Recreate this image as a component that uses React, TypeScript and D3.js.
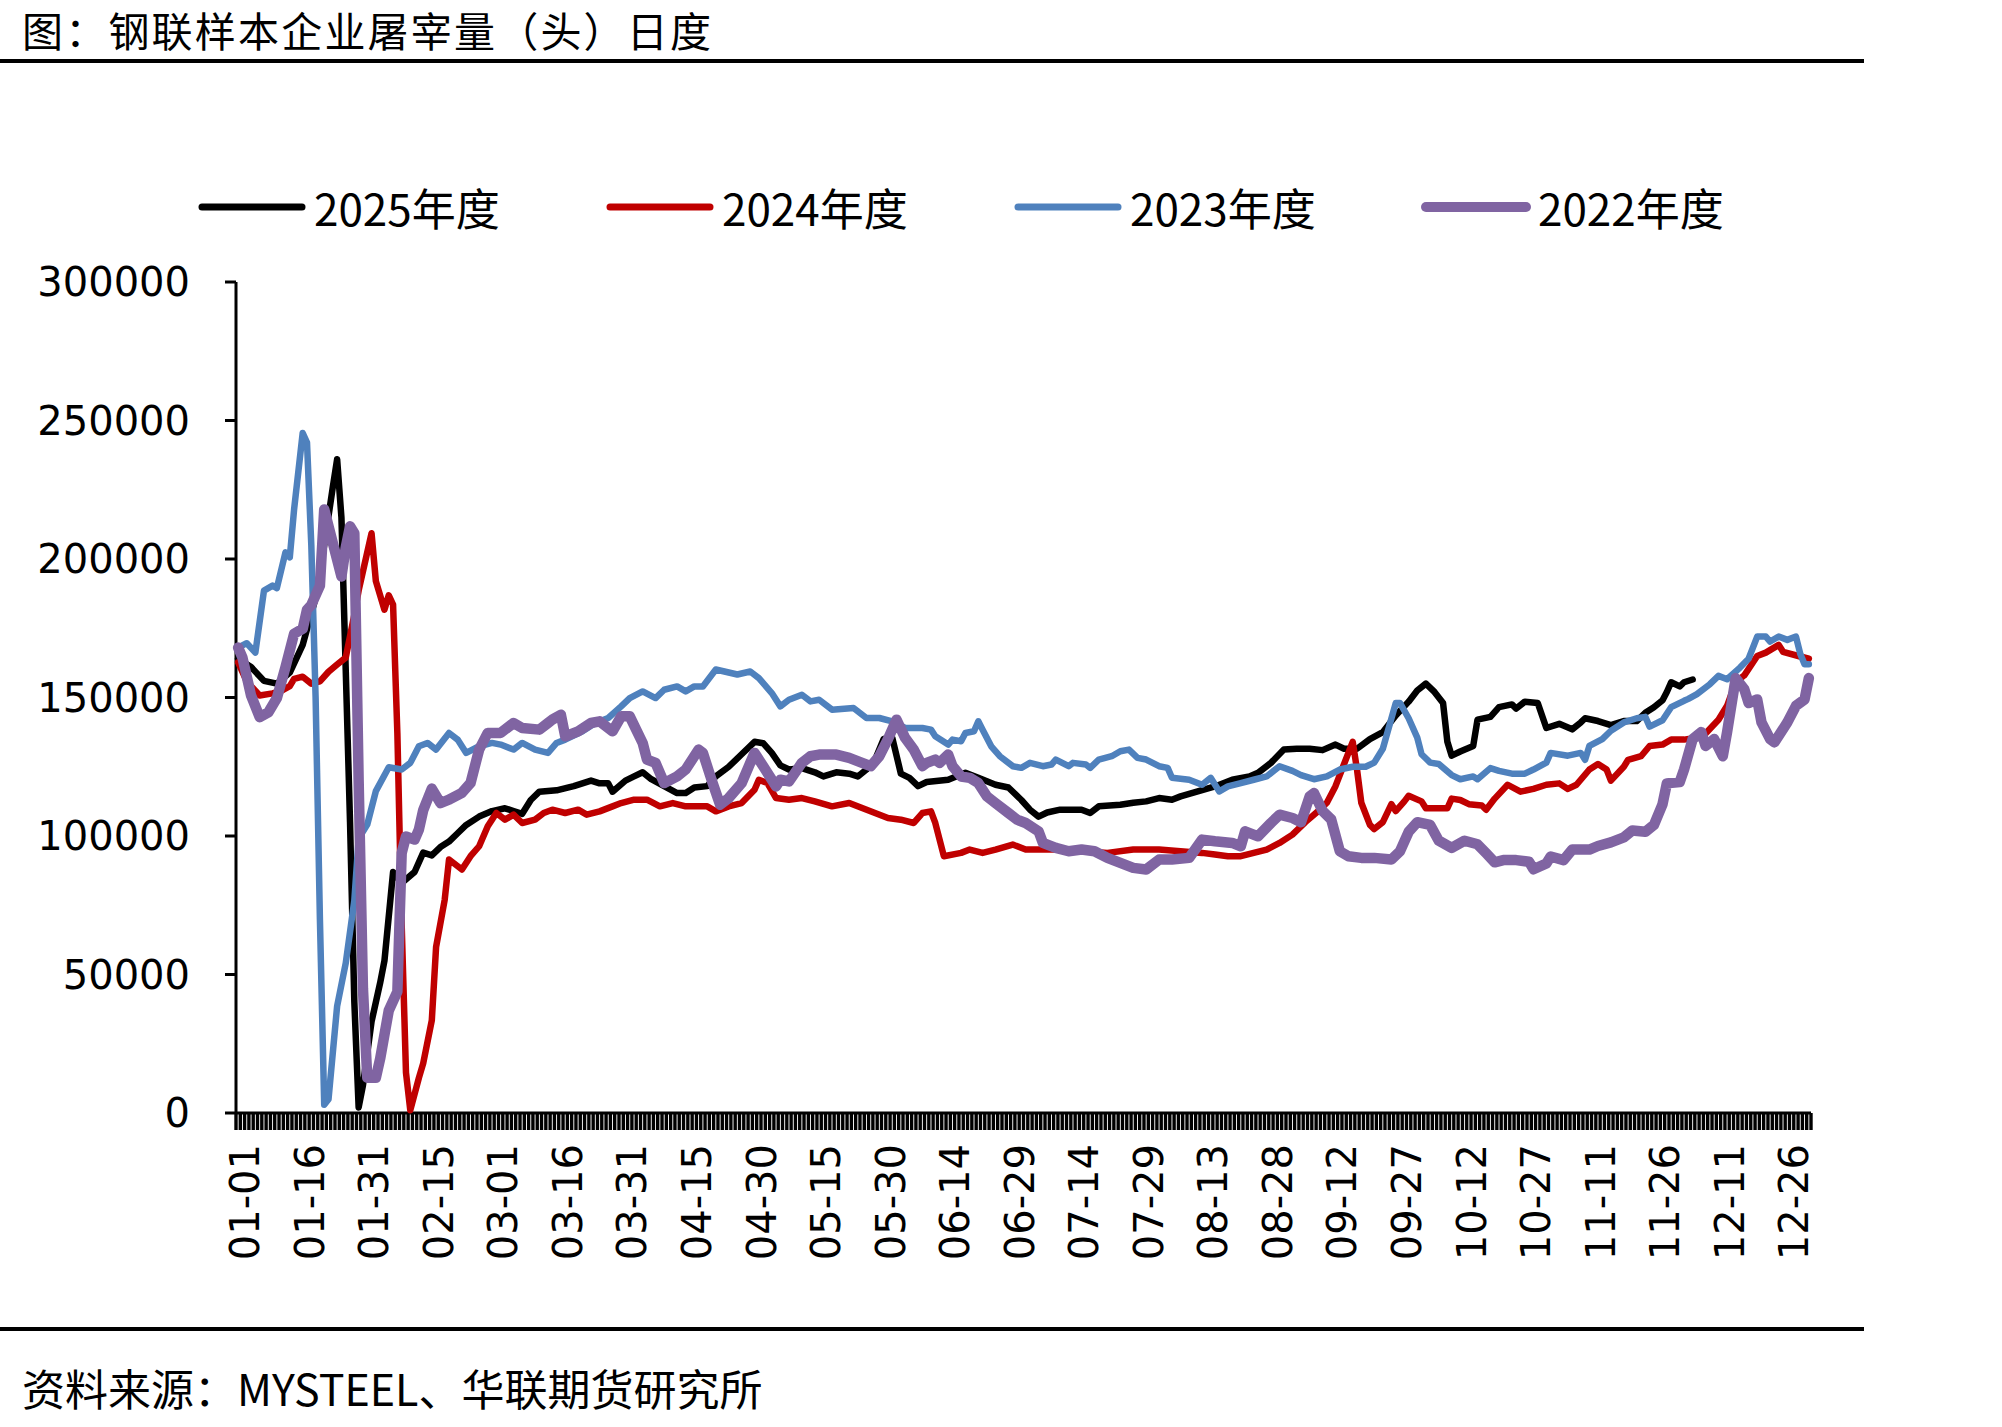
import React from "react";
import * as d3 from "d3";

// 钢联样本企业屠宰量（头）日度 — daily series per year
const categories: string[] = d3
  .timeDay.range(new Date(2024, 0, 1), new Date(2025, 0, 1))
  .map(d3.timeFormat("%m-%d"));

const tickLabels = [
  "01-01", "01-16", "01-31", "02-15", "03-01", "03-16", "03-31", "04-15", "04-30",
  "05-15", "05-30", "06-14", "06-29", "07-14", "07-29", "08-13", "08-28", "09-12",
  "09-27", "10-12", "10-27", "11-11", "11-26", "12-11", "12-26",
];

const yTicks = [0, 50000, 100000, 150000, 200000, 250000, 300000];

type Pt = [string, number];

const s2025: Pt[] = [
  ["01-01", 164000], ["01-04", 161000], ["01-07", 156000], ["01-10", 155000], ["01-13", 159000],
  ["01-16", 169000], ["01-19", 186000], ["01-21", 205000], ["01-23", 226000], ["01-24", 236000],
  ["01-25", 215000], ["01-26", 160000], ["01-27", 105000], ["01-28", 40000], ["01-29", 2000],
  ["01-30", 10000], ["02-01", 33000], ["02-03", 47000], ["02-04", 55000], ["02-06", 87000],
  ["02-08", 83000], ["02-11", 87000], ["02-13", 94000], ["02-15", 93000], ["02-17", 96000],
  ["02-19", 98000], ["02-21", 101000], ["02-23", 104000], ["02-26", 107000], ["02-29", 109000],
  ["03-03", 110000], ["03-05", 109000], ["03-07", 108000], ["03-09", 113000], ["03-11", 116000],
  ["03-15", 116500], ["03-19", 118000], ["03-23", 120000], ["03-25", 119000], ["03-27", 119000],
  ["03-28", 116000], ["03-31", 120000], ["04-02", 121500], ["04-04", 123000], ["04-06", 120500],
  ["04-09", 118000], ["04-12", 115500], ["04-14", 115500], ["04-16", 117500], ["04-19", 118000],
  ["04-21", 121500], ["04-24", 125000], ["04-27", 129500], ["04-30", 134000], ["05-02", 133500],
  ["05-04", 130000], ["05-06", 125500], ["05-08", 124000], ["05-11", 124500], ["05-14", 123000],
  ["05-16", 121500], ["05-19", 123000], ["05-22", 122500], ["05-24", 121500], ["05-26", 124000],
  ["05-28", 127500], ["05-30", 135000], ["06-01", 135500], ["06-03", 122500], ["06-05", 121000],
  ["06-07", 118000], ["06-09", 119500], ["06-14", 120300], ["06-18", 122800], ["06-21", 121000],
  ["06-25", 118500], ["06-28", 117500], ["07-01", 113000], ["07-03", 109500], ["07-05", 107000],
  ["07-07", 108500], ["07-10", 109500], ["07-15", 109500], ["07-17", 108300], ["07-19", 110700],
  ["07-24", 111300], ["07-27", 112000], ["07-30", 112500], ["08-02", 113700], ["08-05", 113100],
  ["08-07", 114300], ["08-11", 116100], ["08-15", 117900], ["08-19", 120300], ["08-23", 121500],
  ["08-25", 122800], ["08-28", 126400], ["08-31", 131200], ["09-03", 131500], ["09-06", 131500],
  ["09-09", 131000], ["09-12", 133000], ["09-14", 131500], ["09-17", 131500], ["09-20", 135000],
  ["09-23", 137500], ["09-26", 143500], ["09-29", 148500], ["10-01", 152500], ["10-03", 155000],
  ["10-05", 152000], ["10-07", 148000], ["10-08", 134000], ["10-09", 129000], ["10-11", 130500],
  ["10-14", 132500], ["10-15", 142000], ["10-18", 143000], ["10-20", 146500], ["10-23", 147500],
  ["10-24", 146000], ["10-26", 148500], ["10-29", 148000], ["10-31", 139000], ["11-03", 140500],
  ["11-06", 138500], ["11-08", 141000], ["11-09", 142500], ["11-12", 141500], ["11-15", 140000],
  ["11-18", 141500], ["11-21", 141500], ["11-23", 144500], ["11-25", 146500], ["11-27", 149000],
  ["11-28", 152000], ["11-29", 155500], ["12-01", 154000], ["12-02", 155500], ["12-04", 156500],
];

const s2024: Pt[] = [
  ["01-01", 162700], ["01-03", 155800], ["01-06", 150700], ["01-09", 151500], ["01-11", 152400],
  ["01-13", 154100], ["01-14", 156700], ["01-16", 157500], ["01-18", 155000], ["01-20", 155800],
  ["01-22", 159300], ["01-24", 161900], ["01-26", 164400], ["01-28", 179900], ["01-29", 188600],
  ["02-01", 209300], ["02-02", 192000], ["02-04", 181700], ["02-05", 186900], ["02-06", 183500],
  ["02-07", 137000], ["02-08", 68000], ["02-09", 14600], ["02-10", 1000], ["02-12", 12700],
  ["02-13", 17900], ["02-15", 33400], ["02-16", 60000], ["02-18", 77000], ["02-19", 91500],
  ["02-22", 87900], ["02-24", 92700], ["02-26", 96300], ["02-28", 103500], ["03-01", 108300],
  ["03-03", 105900], ["03-05", 107700], ["03-07", 104700], ["03-10", 105900], ["03-12", 108300],
  ["03-14", 109500], ["03-17", 108300], ["03-20", 109500], ["03-22", 107700], ["03-25", 108900],
  ["03-28", 110700], ["03-30", 111900], ["04-02", 113100], ["04-05", 113100], ["04-08", 110700],
  ["04-11", 111900], ["04-14", 110700], ["04-19", 110700], ["04-21", 108900], ["04-24", 110700],
  ["04-27", 111900], ["04-30", 116700], ["05-01", 120300], ["05-03", 119100], ["05-05", 113700],
  ["05-08", 113100], ["05-11", 113700], ["05-14", 112500], ["05-18", 110700], ["05-22", 111900],
  ["05-25", 110100], ["05-28", 108300], ["05-31", 106500], ["06-03", 105900], ["06-06", 104700],
  ["06-08", 108300], ["06-10", 108900], ["06-11", 104700], ["06-13", 92700], ["06-17", 93900],
  ["06-19", 95100], ["06-22", 93900], ["06-25", 95100], ["06-29", 96900], ["07-02", 95100],
  ["07-09", 95100], ["07-16", 94500], ["07-21", 93900], ["07-27", 95100], ["08-02", 95100],
  ["08-07", 94500], ["08-12", 93900], ["08-15", 93300], ["08-18", 92700], ["08-21", 92700],
  ["08-24", 93900], ["08-27", 95100], ["08-30", 97500], ["09-02", 100500], ["09-05", 105000],
  ["09-08", 109000], ["09-10", 112000], ["09-12", 118000], ["09-14", 126000], ["09-16", 134000],
  ["09-17", 124000], ["09-18", 112000], ["09-20", 104000], ["09-21", 102500], ["09-23", 105000],
  ["09-25", 111500], ["09-26", 109000], ["09-28", 112500], ["09-29", 114500], ["10-02", 112500],
  ["10-03", 110000], ["10-08", 110000], ["10-09", 113500], ["10-11", 113000], ["10-13", 111500],
  ["10-16", 111000], ["10-17", 109500], ["10-19", 113500], ["10-22", 118500], ["10-25", 116000],
  ["10-28", 117000], ["10-31", 118500], ["11-03", 119000], ["11-05", 117000], ["11-07", 118500],
  ["11-10", 124000], ["11-12", 126000], ["11-14", 124000], ["11-15", 120000], ["11-18", 125000],
  ["11-19", 127500], ["11-22", 128800], ["11-24", 132500], ["11-27", 133000], ["11-29", 134800],
  ["12-02", 134800], ["12-05", 135500], ["12-07", 137000], ["12-10", 142000], ["12-12", 147000],
  ["12-14", 155500], ["12-16", 158000], ["12-19", 165000], ["12-21", 166200], ["12-24", 169000],
  ["12-25", 166500], ["12-29", 164800], ["12-31", 164000],
];

const s2023: Pt[] = [
  ["01-01", 168000], ["01-03", 169600], ["01-05", 166200], ["01-07", 188600], ["01-09", 190400],
  ["01-10", 189500], ["01-12", 202400], ["01-13", 200600], ["01-14", 217900], ["01-16", 245500],
  ["01-17", 242000], ["01-18", 205000], ["01-19", 150000], ["01-20", 70000], ["01-21", 3000],
  ["01-22", 5000], ["01-24", 38600], ["01-26", 54100], ["01-28", 76700], ["01-29", 99100],
  ["01-31", 104100], ["02-02", 116200], ["02-05", 124800], ["02-08", 124000], ["02-10", 126400],
  ["02-12", 132400], ["02-14", 133600], ["02-16", 131200], ["02-19", 137200], ["02-21", 134800],
  ["02-23", 130000], ["02-26", 132400], ["02-29", 133600], ["03-02", 133000], ["03-05", 131200],
  ["03-07", 133600], ["03-10", 131200], ["03-13", 130000], ["03-15", 133600], ["03-17", 134800],
  ["03-21", 137800], ["03-24", 140800], ["03-27", 142600], ["03-30", 146800], ["04-01", 149800],
  ["04-04", 152200], ["04-07", 149800], ["04-09", 152800], ["04-12", 154000], ["04-14", 152200],
  ["04-16", 154000], ["04-18", 154000], ["04-21", 160100], ["04-23", 159400], ["04-26", 158300],
  ["04-29", 159400], ["05-01", 157000], ["05-04", 151600], ["05-06", 146800], ["05-08", 149200],
  ["05-11", 151000], ["05-13", 148600], ["05-15", 149200], ["05-18", 145600], ["05-23", 146200],
  ["05-26", 142600], ["05-29", 142600], ["06-01", 141400], ["06-04", 139000], ["06-08", 139000],
  ["06-10", 138400], ["06-11", 136000], ["06-14", 133000], ["06-15", 134800], ["06-17", 134200],
  ["06-18", 137200], ["06-20", 137800], ["06-21", 141400], ["06-22", 138400], ["06-24", 132400],
  ["06-26", 128800], ["06-29", 125200], ["07-01", 124600], ["07-03", 126400], ["07-06", 125200],
  ["07-08", 125800], ["07-09", 127600], ["07-12", 125200], ["07-13", 126400], ["07-16", 125800],
  ["07-17", 124600], ["07-19", 127600], ["07-22", 128800], ["07-24", 130600], ["07-26", 131200],
  ["07-28", 128200], ["07-30", 127600], ["08-02", 125200], ["08-04", 124600], ["08-05", 121000],
  ["08-09", 120300], ["08-12", 118500], ["08-14", 121000], ["08-16", 116100], ["08-18", 117900],
  ["08-21", 119100], ["08-24", 120300], ["08-27", 121500], ["08-30", 125200], ["09-02", 123500],
  ["09-04", 122000], ["09-07", 120500], ["09-10", 121500], ["09-13", 124000], ["09-16", 125000],
  ["09-19", 125000], ["09-21", 126500], ["09-23", 131500], ["09-25", 142500], ["09-26", 148000],
  ["09-27", 148000], ["09-29", 142500], ["10-01", 135500], ["10-02", 129500], ["10-04", 126500],
  ["10-06", 126000], ["10-09", 122000], ["10-11", 120500], ["10-14", 121500], ["10-15", 120500],
  ["10-18", 124500], ["10-20", 123500], ["10-23", 122500], ["10-26", 122500], ["10-28", 124000],
  ["10-31", 126500], ["11-01", 130000], ["11-05", 129000], ["11-08", 130000], ["11-09", 127500],
  ["11-10", 132500], ["11-13", 135000], ["11-15", 138000], ["11-18", 141000], ["11-21", 142500],
  ["11-23", 143000], ["11-24", 139500], ["11-27", 141800], ["11-29", 146500], ["12-02", 148800],
  ["12-03", 149500], ["12-05", 151200], ["12-08", 154800], ["12-10", 157800], ["12-12", 156600],
  ["12-15", 160800], ["12-17", 164000], ["12-19", 172000], ["12-21", 172000], ["12-22", 170200],
  ["12-24", 172000], ["12-26", 170800], ["12-28", 172000], ["12-29", 165800], ["12-30", 162000],
  ["12-31", 162000],
];

const s2022: Pt[] = [
  ["01-01", 168000], ["01-02", 164400], ["01-04", 150700], ["01-06", 142900], ["01-08", 144600],
  ["01-10", 149800], ["01-12", 161000], ["01-14", 173000], ["01-16", 174800], ["01-17", 181700],
  ["01-18", 183400], ["01-20", 190400], ["01-21", 217900], ["01-23", 205800], ["01-25", 193700],
  ["01-26", 204100], ["01-27", 211800], ["01-28", 209300], ["01-29", 120000], ["01-30", 45000],
  ["01-31", 12700], ["02-02", 12700], ["02-03", 19600], ["02-05", 37000], ["02-07", 43800],
  ["02-08", 93800], ["02-09", 99800], ["02-11", 98700], ["02-12", 102300], ["02-13", 109300],
  ["02-15", 117100], ["02-17", 111900], ["02-19", 113100], ["02-22", 115600], ["02-24", 119100],
  ["02-26", 131200], ["02-28", 137200], ["03-02", 137200], ["03-05", 140800], ["03-07", 139000],
  ["03-11", 138400], ["03-13", 140800], ["03-14", 142000], ["03-16", 143800], ["03-17", 136000],
  ["03-20", 137800], ["03-23", 140800], ["03-25", 141400], ["03-28", 137800], ["03-30", 143200],
  ["04-01", 143200], ["04-04", 133600], ["04-05", 127600], ["04-07", 126400], ["04-09", 119100],
  ["04-12", 121500], ["04-14", 124000], ["04-17", 131200], ["04-18", 130000], ["04-20", 120300],
  ["04-22", 111300], ["04-24", 113700], ["04-27", 119100], ["04-29", 126400], ["04-30", 130000],
  ["05-02", 125200], ["05-05", 117900], ["05-06", 120300], ["05-08", 119700], ["05-11", 126400],
  ["05-13", 128800], ["05-15", 129400], ["05-19", 129400], ["05-22", 128200], ["05-25", 126400],
  ["05-27", 125200], ["05-29", 128800], ["05-31", 135000], ["06-02", 142000], ["06-04", 135400],
  ["06-06", 131200], ["06-08", 125200], ["06-09", 126400], ["06-11", 127600], ["06-12", 126400],
  ["06-14", 129400], ["06-15", 125200], ["06-17", 121500], ["06-19", 121000], ["06-21", 119100],
  ["06-23", 114300], ["06-25", 111900], ["06-28", 108300], ["06-30", 105900], ["07-02", 104700],
  ["07-05", 101700], ["07-06", 97500], ["07-09", 95700], ["07-12", 94500], ["07-15", 95100],
  ["07-18", 94500], ["07-21", 92100], ["07-24", 90300], ["07-27", 88500], ["07-30", 87900],
  ["08-02", 91500], ["08-05", 91500], ["08-09", 92100], ["08-12", 98700], ["08-15", 98100],
  ["08-19", 97500], ["08-21", 96300], ["08-22", 101700], ["08-25", 99900], ["08-28", 104700],
  ["08-30", 107700], ["09-02", 106500], ["09-04", 105000], ["09-06", 114300], ["09-07", 115500],
  ["09-09", 109000], ["09-11", 106000], ["09-13", 94500], ["09-15", 92700], ["09-18", 92100],
  ["09-21", 92100], ["09-25", 91500], ["09-27", 94500], ["09-29", 101500], ["10-01", 105000],
  ["10-04", 104000], ["10-06", 98300], ["10-09", 95700], ["10-12", 98300], ["10-15", 97000],
  ["10-17", 93800], ["10-19", 90500], ["10-21", 91300], ["10-24", 91300], ["10-27", 90700],
  ["10-28", 88000], ["10-31", 90100], ["11-01", 92600], ["11-04", 91300], ["11-06", 95100],
  ["11-10", 95100], ["11-12", 96400], ["11-15", 97700], ["11-18", 99500], ["11-20", 102000],
  ["11-23", 101500], ["11-25", 104000], ["11-27", 111500], ["11-28", 119000], ["12-01", 119500],
  ["12-02", 124000], ["12-04", 135000], ["12-06", 137500], ["12-07", 132500], ["12-09", 135000],
  ["12-11", 128800], ["12-12", 137500], ["12-14", 157000], ["12-16", 153000], ["12-17", 148000],
  ["12-19", 149300], ["12-20", 141000], ["12-22", 135000], ["12-23", 133800], ["12-26", 141000],
  ["12-28", 147000], ["12-30", 149300], ["12-31", 157000],
];

const seriesNames = ["2025年度", "2024年度", "2023年度", "2022年度"];
const seriesColors = ["#000000", "#C00000", "#4F81BD", "#8064A2"];
const seriesData = [s2025, s2024, s2023, s2022];

const CJK = '"Noto Sans CJK SC", "Noto Sans", sans-serif';
const NUM = '"DejaVu Sans", sans-serif';

const W = 2002;
const H = 1427;
const plot = { left: 236, right: 1811, top: 282, bottom: 1113 };

export default function App() {
  const x = d3.scaleBand<string>().domain(categories).range([plot.left, plot.right]).paddingInner(0).paddingOuter(0);
  const bw = x.bandwidth();
  const y = d3.scaleLinear().domain([0, 300000]).range([plot.bottom, plot.top]);

  const line = d3
    .line<Pt>()
    .x((d) => (x(d[0]) as number) + bw / 2)
    .y((d) => y(d[1]));

  // tick marks at every category boundary (they merge into a black band)
  const boundaries = categories.map((c) => x(c) as number).concat([plot.right]);

  return (
    <svg
      width={W}
      height={H}
      viewBox={`0 0 ${W} ${H}`}
      style={{ position: "absolute", left: 0, top: 0, background: "#fff" }}
    >
      <rect width={W} height={H} fill="#fff" />

      {/* title */}
      <text x={22} y={47} fontFamily={CJK} fontSize={41} fill="#000" letterSpacing={2.2}>
        图：钢联样本企业屠宰量（头）日度
      </text>
      <rect x={0} y={59} width={1864} height={4} fill="#000" />

      {/* legend */}
      {seriesNames.map((name, k) => {
        const lx = 202 + k * 408;
        return (
          <g key={name}>
            <line
              x1={lx}
              x2={lx + 100}
              y1={207}
              y2={207}
              stroke={seriesColors[k]}
              strokeWidth={k === 3 ? 10 : 7}
              strokeLinecap="round"
            />
            <text x={lx + 112} y={207} dominantBaseline="central" fontFamily={CJK} fontSize={44} fill="#000">
              {name}
            </text>
          </g>
        );
      })}

      {/* y axis */}
      <line x1={plot.left} x2={plot.left} y1={plot.top} y2={plot.bottom} stroke="#000" strokeWidth={3} />
      {yTicks.map((t) => (
        <g key={t}>
          <line x1={plot.left - 11} x2={plot.left} y1={y(t)} y2={y(t)} stroke="#000" strokeWidth={3} />
          <text
            x={190}
            y={y(t)}
            textAnchor="end"
            dominantBaseline="central"
            fontFamily={NUM}
            fontSize={40}
            fill="#000"
          >
            {t}
          </text>
        </g>
      ))}

      {/* x axis */}
      {boundaries.map((bx, i) => (
        <line key={i} x1={bx} x2={bx} y1={plot.bottom} y2={plot.bottom + 17} stroke="#000" strokeWidth={3.4} />
      ))}
      <line x1={plot.left} x2={plot.right} y1={plot.bottom} y2={plot.bottom} stroke="#000" strokeWidth={3} />
      {tickLabels.map((lab) => {
        const cx = (x(lab) as number) + bw / 2 + 7;
        return (
          <text
            key={lab}
            transform={`translate(${cx},${1144}) rotate(-90)`}
            textAnchor="end"
            dominantBaseline="central"
            fontFamily={NUM}
            fontSize={40}
            fill="#000"
          >
            {lab}
          </text>
        );
      })}

      {/* series */}
      {seriesData.map((d, k) => (
        <path
          key={seriesNames[k]}
          d={line(d) as string}
          fill="none"
          stroke={seriesColors[k]}
          strokeWidth={k === 3 ? 10.5 : 6.5}
          strokeLinejoin="round"
          strokeLinecap="round"
        />
      ))}

      {/* footer */}
      <rect x={0} y={1327} width={1864} height={4} fill="#000" />
      <text x={22} y={1406} fontFamily={CJK} fontSize={43} fill="#000">
        资料来源：MYSTEEL、华联期货研究所
      </text>
    </svg>
  );
}
